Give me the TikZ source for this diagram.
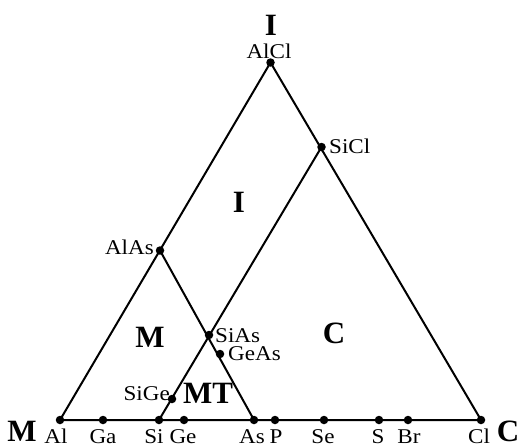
\documentclass[tikz,border=0pt]{standalone}
\usepackage{fontspec}
\setmainfont{Liberation Serif}
\newfontfamily\labfont{Liberation Serif}[FakeStretch=1.1]
\begin{document}
\begin{tikzpicture}[x=1pt,y=-1pt,
  dot/.style={circle,fill=black,inner sep=0pt,minimum size=8.5pt},
  edge/.style={line width=2pt},
  lab/.style={inner sep=0pt,font=\labfont\fontsize{21}{21}\selectfont},
  big/.style={inner sep=0pt,font=\bfseries\fontsize{31}{31}\selectfont}]
\useasboundingbox (0,0) rectangle (526,447);
% vertices and points
\node[dot] (Al) at (60,420) {};
\node[dot] (Ga) at (103,420) {};
\node[dot] (Si) at (159,420) {};
\node[dot] (Ge) at (184,420) {};
\node[dot] (As) at (254,420) {};
\node[dot] (P) at (275,420) {};
\node[dot] (Se) at (324,420) {};
\node[dot] (S) at (379,420) {};
\node[dot] (Br) at (408,420) {};
\node[dot] (Cl) at (481,420) {};
\node[dot] (AlCl) at (270.5,62.5) {};
\node[dot] (SiCl) at (321.5,147) {};
\node[dot] (AlAs) at (160,250.5) {};
\node[dot] (SiAs) at (209,335) {};
\node[dot] (GeAs) at (220,354) {};
\node[dot] (SiGe) at (172,399) {};
% lines
\draw[edge] (Al.center) -- (Cl.center) -- (AlCl.center) -- cycle;
\draw[edge] (AlAs.center) -- (As.center);
\draw[edge] (SiCl.center) -- (Si.center);
% point labels
\node[lab,anchor=base] (tAl) at (56,443) {Al};
\node[lab,anchor=base] (tGa) at (103,443) {Ga};
\node[lab,anchor=base] (tSi) at (154,443) {Si};
\node[lab,anchor=base] (tGe) at (183,443) {Ge};
\node[lab,anchor=base] (tAs) at (252,443) {As};
\node[lab,anchor=base] (tP) at (276,443) {P};
\node[lab,anchor=base] (tSe) at (323,443) {Se};
\node[lab,anchor=base] (tS) at (378,443) {S};
\node[lab,anchor=base] (tBr) at (409,443) {Br};
\node[lab,anchor=base] (tCl) at (479,443) {Cl};
\node[lab,anchor=base] (tAlCl) at (269,58) {AlCl};
\node[lab,anchor=base west] (tSiCl) at (329,153) {SiCl};
\node[lab,anchor=base east] (tAlAs) at (154,254) {AlAs};
\node[lab,anchor=base west] (tSiAs) at (215,342) {SiAs};
\node[lab,anchor=base west] (tGeAs) at (228,360) {GeAs};
\node[lab,anchor=base east] (tSiGe) at (170,400) {SiGe};
% region / vertex labels
\node[big,anchor=base] (vI) at (271,35) {I};
\node[big,anchor=base] (vM) at (22,441) {M};
\node[big,anchor=base] (vC) at (508,441) {C};
\node[big] (rI) at (239,202) {I};
\node[big] (rM) at (150,337) {M};
\node[big] (rC) at (334,333) {C};
\node[big] (rMT) at (208,393) {MT};
\end{tikzpicture}
\end{document}
